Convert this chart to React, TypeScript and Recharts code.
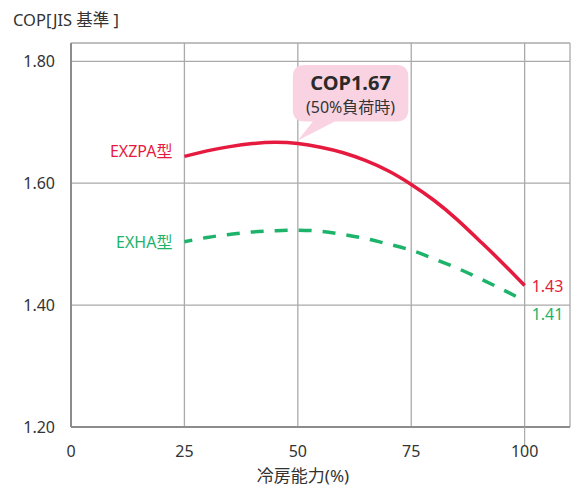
import React from 'react';
import { LineChart, Line, XAxis, YAxis, CartesianGrid, LabelList, ReferenceDot } from 'recharts';

const loads = [25, 30, 35, 40, 45, 50, 55, 60, 65, 70, 75, 80, 85, 90, 95, 100];
const exzpa = [1.644, 1.653, 1.66, 1.665, 1.667, 1.665, 1.659, 1.65, 1.637, 1.62, 1.598, 1.572, 1.541, 1.506, 1.47, 1.432];
const exha = [1.504, 1.511, 1.516, 1.52, 1.522, 1.523, 1.521, 1.516, 1.509, 1.5, 1.49, 1.476, 1.461, 1.444, 1.426, 1.407];
const xTicks = [0, 25, 50, 75, 100];
const yTicks = [1.2, 1.4, 1.6, 1.8];
const seriesNames = ['EXZPA型', 'EXHA型'];
const endLabels = ['1.43', '1.41'];
const calloutTitle = 'COP1.67';
const calloutSub = '(50%負荷時)';
const calloutX = 50;
const calloutY = 1.665;
const yTitle = 'COP[JIS 基準 ]';
const xTitle = '冷房能力(%)';

const data = loads.map((x, i) => ({ x, a: exzpa[i], b: exha[i] }));

const RED = '#e61a3e';
const GREEN = '#1db36a';
const FONT = '"Noto Sans", "Noto Sans CJK JP", sans-serif';
const TXT = '#333';

const XTick = (props: any) => {
  const { x, y, payload } = props;
  return (
    <g>
      {payload.value === 100 && <line x1={x} x2={x} y1={y - 8} y2={y + 10} stroke="#aaa" strokeWidth={1.2} />}
      <text x={x} y={y} dy={22} textAnchor="middle" fill={TXT} fontSize={16} fontFamily={FONT}>
        {payload.value}
      </text>
    </g>
  );
};

const YTick = (props: any) => {
  const { x, y, payload } = props;
  return (
    <text x={x - 8} y={y} dy={6} textAnchor="end" fill={TXT} fontSize={16} fontFamily={FONT}>
      {Number(payload.value).toFixed(2)}
    </text>
  );
};

const makeLabel = (si: number, color: string, nameDy: number, endDy: number) => (props: any) => {
  const { x, y, index } = props;
  if (index === 0) {
    return (
      <text x={x - 12} y={y + nameDy} textAnchor="end" fill={color} fontSize={16} fontFamily={FONT}>
        {seriesNames[si]}
      </text>
    );
  }
  if (index === loads.length - 1) {
    return (
      <text x={x + 7} y={y + endDy} textAnchor="start" fill={color} fontSize={16} fontFamily={FONT}>
        {endLabels[si]}
      </text>
    );
  }
  return null;
};

const Callout = (props: any) => {
  const { cx, cy } = props;
  const tx = cx;
  const ty = cy - 3;
  const l = cx - 5;
  const r = cx + 110.5;
  const t = cy - 78.5;
  const b = cy - 22;
  const rr = 12;
  const p1 = cx + 15;
  const p2 = cx + 37;
  const d = `M ${l + rr} ${t} L ${r - rr} ${t} Q ${r} ${t} ${r} ${t + rr} L ${r} ${b - rr} Q ${r} ${b} ${r - rr} ${b} L ${p2} ${b} L ${tx} ${ty} L ${p1} ${b} L ${l + rr} ${b} Q ${l} ${b} ${l} ${b - rr} L ${l} ${t + rr} Q ${l} ${t} ${l + rr} ${t} Z`;
  const mid = (l + r) / 2;
  return (
    <g>
      <path d={d} fill="#f9d3e2" />
      <text x={mid} y={cy - 54} textAnchor="middle" fill="#2a2a2a" fontSize={20} fontWeight={700} fontFamily={FONT}>
        {calloutTitle}
      </text>
      <text x={mid} y={cy - 31} textAnchor="middle" fill="#333" fontSize={16} fontFamily={FONT}>
        {calloutSub}
      </text>
    </g>
  );
};

export default function App() {
  return (
    <div style={{ position: 'absolute', left: 0, top: 0, background: '#fff' }}>
      <LineChart width={574} height={488} data={data} margin={{ top: 43, right: 4, bottom: 0, left: 0 }}>
        <CartesianGrid stroke="#aaa" strokeWidth={1.3} />
        <XAxis
          dataKey="x"
          type="number"
          domain={[0, 110]}
          ticks={xTicks}
          height={61}
          tickLine={false}
          tick={<XTick />}
          axisLine={{ stroke: '#8c8c8c', strokeWidth: 2 }}
          label={{
            content: () => (
              <text x={303} y={482} textAnchor="middle" fill={TXT} fontSize={17} fontFamily={FONT}>
                {xTitle}
              </text>
            ),
          }}
        />
        <YAxis
          type="number"
          domain={[1.2, 1.83]}
          ticks={yTicks}
          width={71}
          tickLine={false}
          tick={<YTick />}
          axisLine={{ stroke: '#8c8c8c', strokeWidth: 2 }}
          label={{
            content: () => (
              <text x={13} y={26} textAnchor="start" fill={TXT} fontSize={16.5} fontFamily={FONT}>
                {yTitle}
              </text>
            ),
          }}
        />
        <Line
          type="natural"
          dataKey="b"
          stroke={GREEN}
          strokeWidth={3.5}
          strokeDasharray="13 11"
          strokeDashoffset={5}
          dot={false}
          activeDot={false}
          isAnimationActive={false}
        >
          <LabelList dataKey="b" content={makeLabel(1, GREEN, 6, 19)} />
        </Line>
        <Line
          type="natural"
          dataKey="a"
          stroke={RED}
          strokeWidth={3.5}
          dot={false}
          activeDot={false}
          isAnimationActive={false}
        >
          <LabelList dataKey="a" content={makeLabel(0, RED, 1, 6)} />
        </Line>
        <ReferenceDot x={calloutX} y={calloutY} ifOverflow="visible" shape={<Callout />} />
      </LineChart>
    </div>
  );
}
